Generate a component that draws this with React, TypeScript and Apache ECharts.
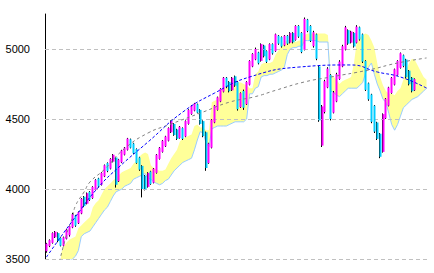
import React, { useEffect, useRef } from "react";
import * as echarts from "echarts";

// [open, close, low, high]
const candles: number[][] = [
  [3555, 3610, 3545, 3615], [3592, 3635, 3585, 3640], [3615, 3685, 3610, 3690], [3655, 3695, 3650, 3700],
  [3685, 3628, 3620, 3690], [3650, 3595, 3590, 3655], [3595, 3655, 3590, 3660], [3645, 3710, 3640, 3715],
  [3670, 3735, 3660, 3740], [3725, 3820, 3720, 3830], [3810, 3738, 3730, 3815], [3755, 3835, 3750, 3840],
  [3825, 3930, 3820, 3935], [3945, 3878, 3870, 3950], [3895, 3970, 3890, 3975], [3980, 3922, 3915, 3985],
  [3935, 4015, 3930, 4020], [3995, 4065, 3990, 4070], [4075, 4018, 4010, 4080], [4030, 4115, 4025, 4120],
  [4090, 4170, 4085, 4175], [4185, 4128, 4120, 4190], [4145, 4215, 4140, 4220], [4195, 4245, 4190, 4250],
  [4225, 4030, 4010, 4230], [4055, 4210, 4050, 4215], [4190, 4275, 4185, 4280], [4245, 4295, 4240, 4300],
  [4280, 4360, 4275, 4365], [4355, 4295, 4290, 4360], [4325, 4255, 4250, 4330], [4285, 4185, 4180, 4290],
  [4225, 4138, 4130, 4230], [4165, 4000, 3940, 4170], [4095, 3998, 3990, 4100], [4015, 4115, 4010, 4120],
  [4125, 4035, 4030, 4130], [4045, 4145, 4040, 4150], [4115, 4245, 4110, 4250], [4215, 4295, 4210, 4300],
  [4265, 4345, 4260, 4350], [4305, 4375, 4300, 4380], [4345, 4435, 4340, 4440], [4405, 4485, 4400, 4490],
  [4465, 4385, 4380, 4470], [4425, 4358, 4350, 4430], [4365, 4445, 4360, 4450], [4435, 4358, 4350, 4440],
  [4375, 4485, 4370, 4490], [4465, 4565, 4460, 4570], [4535, 4595, 4530, 4600], [4560, 4610, 4555, 4615],
  [4605, 4545, 4540, 4610], [4565, 4465, 4460, 4570], [4485, 4378, 4370, 4490], [4405, 4150, 4130, 4410],
  [4185, 4325, 4180, 4330], [4295, 4495, 4290, 4500], [4475, 4595, 4470, 4600], [4565, 4655, 4560, 4660],
  [4625, 4715, 4620, 4720], [4695, 4795, 4690, 4800], [4795, 4728, 4720, 4800], [4765, 4698, 4690, 4770],
  [4705, 4795, 4700, 4800], [4805, 4738, 4730, 4810], [4765, 4570, 4560, 4770], [4585, 4685, 4580, 4690],
  [4700, 4580, 4565, 4710], [4605, 4765, 4600, 4770], [4745, 4915, 4740, 4920], [4875, 4965, 4870, 4970],
  [4925, 5000, 4920, 5010], [4975, 4898, 4890, 4980], [4915, 5035, 4910, 5040], [5025, 4948, 4940, 5030],
  [4985, 4908, 4900, 4990], [4925, 5035, 4920, 5040], [5035, 4968, 4960, 5040], [4985, 5105, 4980, 5110],
  [5095, 5038, 5030, 5100], [5085, 5018, 5010, 5090], [5025, 5095, 5020, 5100], [5095, 5038, 5030, 5100],
  [5045, 5115, 5040, 5120], [5115, 5048, 5040, 5120], [5065, 5165, 5060, 5170], [5165, 5088, 5080, 5170],
  [5115, 4978, 4970, 5120], [4995, 5215, 4990, 5225], [5210, 5128, 5120, 5215], [5165, 5058, 5050, 5170],
  [5020, 5120, 5010, 5130], [5105, 4930, 4920, 5110], [4875, 4490, 4480, 4880], [4310, 4590, 4300, 4600],
  [4550, 4770, 4540, 4780], [4725, 4860, 4720, 4870], [4815, 4500, 4490, 4820], [4545, 4690, 4540, 4700],
  [4625, 4820, 4620, 4830], [4785, 4910, 4780, 4920], [4875, 5020, 4870, 5030], [4995, 5155, 4990, 5165],
  [5135, 5038, 5030, 5140], [5045, 5125, 5040, 5130], [5115, 5018, 5010, 5120], [5045, 5160, 5040, 5170],
  [5155, 5068, 5060, 5160], [5105, 4910, 4900, 5110], [4915, 4708, 4700, 4920], [4755, 4640, 4630, 4760],
  [4675, 4480, 4470, 4680], [4595, 4410, 4400, 4600], [4475, 4358, 4350, 4480], [4395, 4230, 4220, 4400],
  [4265, 4535, 4260, 4540], [4505, 4645, 4500, 4650], [4595, 4725, 4590, 4730], [4685, 4795, 4680, 4800],
  [4745, 4855, 4740, 4860], [4815, 4915, 4810, 4920], [4865, 4970, 4860, 4975], [4955, 4878, 4870, 4960],
  [4925, 4798, 4790, 4930], [4845, 4748, 4740, 4850], [4795, 4698, 4690, 4800], [4705, 4785, 4700, 4790],
];

const cloudTop: (number | null)[] = [
  null, null, null, null, null, 3540, 3590, 3620, 3640, 3650, 3660, 3720, 3740, 3760, 3780, 3800,
  3870, 3900, 3920, 3960, 4000, 4020, 4040, 4060, 4080, 4100, 4120, 4130, 4140, 4150, 4180, 4200,
  4230, 4250, 4260, 4250, 4170, 4150, 4140, 4130, 4130, 4140, 4180, 4220, 4250, 4280, 4340, 4360,
  4370, 4380, 4390, 4450, 4460, 4440, 4440, 4420, 4420, 4620, 4630, 4640, 4700, 4720, 4730, 4740,
  4740, 4760, 4760, 4760, 4750, 4740, 4720, 4720, 4820, 4840, 4890, 4900, 4900, 4900, 4910, 4960,
  4990, 5020, 5050, 5060, 5070, 5060, 5050, 5060, 5060, 5100, 5110, 5110, 5110, 5110, 5110, 5110,
  5110, 5100, 4820, 4800, 4780, 4750, 4770, 4780, 4790, 4800, 4900, 5060, 5080, 5100, 5110, 5100,
  5060, 5010, 4900, 4800, 4740, 4700, 4680, 4680, 4670, 4700, 4720, 4780, 4850, 4900, 4930, 4920,
  4880, 4840, 4800, 4780,
];

const cloudBottom: (number | null)[] = [
  null, null, null, null, null, 3450, 3450, 3470, 3490, 3500, 3520, 3560, 3660, 3680, 3690, 3700,
  3730, 3760, 3790, 3820, 3850, 3870, 3910, 3950, 3980, 3990, 4000, 4020, 4030, 4040, 4070, 4080,
  4090, 4100, 4110, 4080, 4070, 4050, 4040, 4030, 4040, 4060, 4070, 4100, 4130, 4150, 4170, 4190,
  4200, 4210, 4220, 4280, 4350, 4410, 4400, 4330, 4300, 4430, 4440, 4450, 4450, 4450, 4450, 4460,
  4470, 4480, 4480, 4480, 4480, 4500, 4680, 4680, 4720, 4730, 4800, 4810, 4810, 4820, 4820, 4830,
  4840, 4850, 4870, 4960, 5000, 5010, 5010, 5020, 5020, 5060, 5060, 5060, 5060, 5060, 5050, 5050,
  5050, 5050, 4700, 4690, 4670, 4660, 4680, 4700, 4720, 4720, 4720, 4720, 4740, 4760, 4830, 4870,
  4900, 4820, 4750, 4700, 4640, 4620, 4540, 4460, 4420, 4460, 4520, 4580, 4600, 4620, 4640, 4650,
  4660, 4680, 4700, 4720,
];

// sparse points [index, value] of the two trend curves
const blueCurve: number[][] = [
  [0, 3514], [11, 3830], [18, 4015], [25, 4157], [35, 4336], [47, 4550], [58, 4686],
  [70, 4800], [87, 4871], [105, 4886], [114, 4836], [122, 4800], [131, 4721],
];
const grayCurve: number[][] = [
  [4, 3440], [7, 3680], [9, 3800], [10, 3880], [13, 3980], [15, 4050], [20, 4140], [27, 4290],
  [35, 4400], [42, 4457], [54, 4550], [63, 4620], [72, 4660], [79, 4705], [89, 4765],
  [98, 4800], [111, 4850], [121, 4900], [131, 4936],
];

const yTicks = [3500, 4000, 4500, 5000];
const categoryCount = 132;

export default function App() {
  const ref = useRef<HTMLDivElement>(null);
  useEffect(() => {
    if (!ref.current) return;
    const chart = echarts.init(ref.current, undefined, { renderer: "svg" });
    const cats = Array.from({ length: categoryCount }, (_, i) => String(i));
    const band = cloudTop.map((t, i) => (t == null || cloudBottom[i] == null ? null : t - (cloudBottom[i] as number)));
    const bodies = candles.map(([o, c]) => [o, c, Math.min(o, c), Math.max(o, c)]);
    chart.setOption({
      animation: false,
      backgroundColor: "#ffffff",
      grid: { left: 45, right: 6, top: 14, bottom: 14 },
      xAxis: {
        type: "category",
        data: cats,
        show: false,
        boundaryGap: true,
      },
      yAxis: {
        type: "value",
        min: 3500,
        max: 5250,
        axisLine: { show: true, lineStyle: { color: "#000", width: 1 } },
        axisTick: { show: true, inside: true, length: 3, lineStyle: { color: "#000" }, customValues: yTicks },
        axisLabel: {
          customValues: yTicks,
          formatter: (v: number) => String(v),
          color: "#000",
          fontFamily: "Liberation Sans",
          fontSize: 11,
          margin: 15,
        },
        splitLine: { show: false },
      },
      series: [
        {
          type: "line",
          data: cloudBottom,
          stack: "cloud",
          symbol: "none",
          z: 3,
          lineStyle: { color: "#99ccff", width: 1 },
          markLine: {
            silent: true,
            symbol: "none",
            label: { show: false },
            lineStyle: { color: "#c0c0c0", type: [4, 3], width: 1 },
            data: yTicks.map((v) => ({ yAxis: v })),
          },
        },
        {
          type: "line",
          data: band,
          stack: "cloud",
          symbol: "none",
          z: 2,
          lineStyle: { width: 0 },
          areaStyle: { color: "#ffff99", opacity: 1 },
        },
        {
          type: "candlestick",
          data: candles,
          barWidth: 0.5,
          z: 4,
          itemStyle: { color: "#000", color0: "#000", borderColor: "#000", borderColor0: "#000", borderWidth: 1 },
        },
        {
          type: "candlestick",
          data: bodies,
          barWidth: 2.5,
          z: 5,
          itemStyle: { color: "#ff00ff", color0: "#00ccff", borderColor: "#ff00ff", borderColor0: "#00ccff", borderWidth: 0 },
        },
        {
          type: "line",
          data: grayCurve,
          smooth: true,
          symbol: "none",
          z: 6,
          lineStyle: { color: "#808080", width: 1, type: [3, 3] },
        },
        {
          type: "line",
          data: blueCurve,
          smooth: true,
          symbol: "none",
          z: 6,
          lineStyle: { color: "#0000ff", width: 1, type: [3, 2] },
        },
      ],
    });
    return () => chart.dispose();
  }, []);
  return <div ref={ref} style={{ position: "fixed", left: 0, top: 0, width: 434, height: 273 }} />;
}
